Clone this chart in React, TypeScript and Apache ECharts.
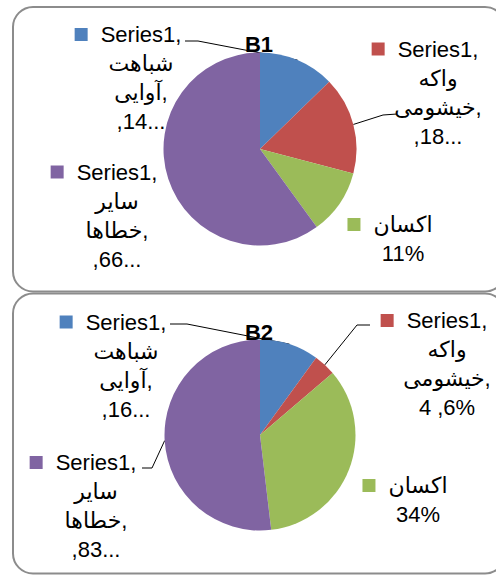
import React, { useEffect, useRef } from 'react';
import * as echarts from 'echarts';

// ---- data ----
const categories = ['شباهت آوایی', 'واکه خیشومی', 'اکسان', 'سایر خطاها'];
const titles = ['B1', 'B2'];
const valuesB1 = [14, 18, 12, 66];
const valuesB2 = [16, 6, 55, 83];
const labelsB1 = [
  ['Series1,', 'شباهت', 'آوایی,', ',14...'],
  ['Series1,', 'واکه', 'خیشومی,', ',18...'],
  ['اکسان', '11%'],
  ['Series1,', 'سایر', 'خطاها,', ',66...'],
];
const labelsB2 = [
  ['Series1,', 'شباهت', 'آوایی,', ',16...'],
  ['Series1,', 'واکه', 'خیشومی,', '4 ,6%'],
  ['اکسان', '34%'],
  ['Series1,', 'سایر', 'خطاها,', ',83...'],
];

// ---- styles / layout ----
const COLORS = ['#4F81BD', '#C0504D', '#9BBB59', '#8064A2'];
const FONT = '"Liberation Sans", Arial, "DejaVu Sans", sans-serif';
const PIE_CENTERS = [[260, 149], [260, 435]];
const PIE_RADIUS = [96.5, 95.5];
const TITLE_POS = [[259, 33], [259, 321]];
const LABEL_POS = [
  [[141, 78], [438, 92.5], [403, 239], [117, 215.5]],
  [[126, 365.5], [447, 364], [418, 500], [96, 506]],
];
const LEADER = [
  [[[198, 41], [185, 41]], [[383, 115], [397, 114]], null, null],
  [[[187, 324], [170, 324]], [[357, 325], [370, 325]], null, [[152, 468], [142, 468]]],
];

const seriesData = [valuesB1, valuesB2];
const seriesLabels = [labelsB1, labelsB2];

function buildSeries(s: number) {
  const labels = seriesLabels[s];
  const rich: any = {
    t: { fontSize: 22, lineHeight: 29, color: '#000', fontFamily: FONT },
    g: { width: 13, lineHeight: 29 },
    p: { width: 26, lineHeight: 29 },
  };
  COLORS.forEach((c, i) => {
    rich['k' + i] = { width: 13, height: 13, backgroundColor: c, lineHeight: 29 };
  });
  return {
    type: 'pie',
    name: titles[s],
    center: PIE_CENTERS[s],
    radius: PIE_RADIUS[s],
    startAngle: 90,
    clockwise: true,
    avoidLabelOverlap: false,
    silent: true,
    itemStyle: { borderWidth: 0 },
    label: {
      show: true,
      position: 'outside',
      alignTo: 'none',
      align: 'center',
      fontSize: 22,
      lineHeight: 29,
      fontFamily: FONT,
      color: '#000',
      rich,
      formatter: (p: any) => {
        const lines = labels[p.dataIndex];
        const first = `{k${p.dataIndex}|}{g|}{t|${lines[0]}}{p|}`;
        return [first, ...lines.slice(1).map((l) => `{t|${l}}`)].join('\n');
      },
    },
    labelLine: { show: true, length: 10, length2: 10, lineStyle: { color: '#000', width: 1 } },
    labelLayout: (params: any) => {
      const i = params.dataIndex;
      const [x, y] = LABEL_POS[s][i];
      const res: any = { x, y, align: 'center', verticalAlign: 'middle' };
      const mid = LEADER[s][i];
      if (mid && params.labelLinePoints) {
        res.labelLinePoints = [params.labelLinePoints[0], ...mid];
      }
      return res;
    },
    data: seriesData[s].map((v, i) => ({
      name: categories[i],
      value: v,
      itemStyle: { color: COLORS[i] },
      labelLine: { show: LEADER[s][i] != null },
    })),
  };
}

export default function App() {
  const ref = useRef<HTMLDivElement>(null);
  useEffect(() => {
    if (!ref.current) return;
    const chart = echarts.init(ref.current, undefined, { renderer: 'svg' });
    chart.setOption({
      animation: false,
      backgroundColor: '#fff',
      title: titles.map((t, s) => ({
        text: t,
        left: TITLE_POS[s][0],
        top: TITLE_POS[s][1],
        textAlign: 'center',
        padding: 0,
        textStyle: { fontSize: 22, fontWeight: 'bold', color: '#000', fontFamily: FONT },
      })),
      graphic: [
        {
          type: 'rect',
          z: 0,
          shape: { x: 13, y: 7, width: 492, height: 284.5, r: 20 },
          style: { fill: 'none', stroke: '#8c8c8c', lineWidth: 2 },
        },
        {
          type: 'rect',
          z: 0,
          shape: { x: 13, y: 293.5, width: 492, height: 280, r: 20 },
          style: { fill: 'none', stroke: '#8c8c8c', lineWidth: 2 },
        },
      ],
      series: [buildSeries(0), buildSeries(1)],
    });
    return () => chart.dispose();
  }, []);
  return (
    <div
      ref={ref}
      style={{ position: 'absolute', left: 0, top: 0, width: 496, height: 576 }}
    />
  );
}
